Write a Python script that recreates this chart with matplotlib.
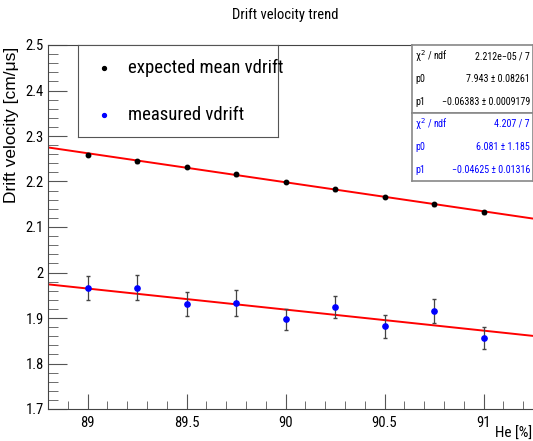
import numpy as np
import matplotlib.pyplot as plt
from matplotlib.ticker import MultipleLocator

plt.rcParams['font.family'] = ['Roboto Condensed', 'Liberation Sans', 'DejaVu Sans']

# He fraction scan
he = [89.0, 89.25, 89.5, 89.75, 90.0, 90.25, 90.5, 90.75, 91.0]

# expected mean drift velocity (cm/us)
v_expected = [2.259, 2.2445, 2.2318, 2.2155, 2.199, 2.1832, 2.1662, 2.1502, 2.1325]
v_expected_err = [0.003] * 9

# measured drift velocity (cm/us)
v_measured = [1.966, 1.967, 1.931, 1.933, 1.897, 1.925, 1.882, 1.915, 1.856]
v_measured_err = [0.026, 0.028, 0.026, 0.029, 0.023, 0.024, 0.025, 0.026, 0.024]

# linear fit results (p0 + p1*x)
fit_expected = {"chi2": "2.212e\u221205 / 7", "p0": "7.943 \u00b1 0.08261",
                "p1": "\u22120.06383 \u00b1 0.0009179", "a": 7.943, "b": -0.06383}
fit_measured = {"chi2": "4.207 / 7", "p0": "6.081 \u00b1 1.185",
                "p1": "\u22120.04625 \u00b1 0.01316", "a": 6.081, "b": -0.04625}

fig = plt.figure(figsize=(5.33, 4.41), dpi=100)
ax = fig.add_axes([48 / 533, 32 / 441, 485 / 533, 364 / 441])

xmin, xmax = 88.8, 91.25
xx = np.array([xmin, xmax])
for fit in (fit_expected, fit_measured):
    ax.plot(xx, fit["a"] + fit["b"] * xx, color='red', lw=1.4, zorder=2)

ax.errorbar(he, v_expected, yerr=v_expected_err, fmt='o', color='black',
            ms=3.2, ecolor='#444444', elinewidth=0.9, capsize=1.5, zorder=3)
ax.errorbar(he, v_measured, yerr=v_measured_err, fmt='o', color='blue',
            ms=3.8, ecolor='#444444', elinewidth=0.9, capsize=1.5, zorder=3)

ax.set_xlim(xmin, xmax)
ax.set_ylim(1.7, 2.5)
ax.xaxis.set_minor_locator(MultipleLocator(0.1))
ax.yaxis.set_minor_locator(MultipleLocator(0.02))
ax.set_xticks([89, 89.5, 90, 90.5, 91])
ax.set_xticklabels(['89', '89.5', '90', '90.5', '91'])
ax.set_yticks(np.round(np.arange(1.7, 2.51, 0.1), 1))
ax.set_yticklabels(['1.7', '1.8', '1.9', '2', '2.1', '2.2', '2.3', '2.4', '2.5'])
ax.tick_params(axis='both', which='both', direction='in', color='#555555',
               labelsize=10.5, top=False, right=False)
ax.tick_params(axis='x', which='major', length=11, pad=5)
ax.tick_params(axis='x', which='minor', length=6)
ax.tick_params(axis='y', which='major', length=14, pad=3)
ax.tick_params(axis='y', which='minor', length=7)
for s in ax.spines.values():
    s.set_color('#444444')
ax.spines['right'].set_visible(False)

fig.text(285 / 533, 1 - 15 / 441, "Drift velocity trend", ha='center', va='center', fontsize=10.5)
fig.text(12 / 533, 1 - 47 / 441, "Drift velocity [cm/\u03bcs]", rotation=90,
         ha='center', va='top', fontsize=12.5, family=['Liberation Sans', 'DejaVu Sans'])
fig.text(532 / 533, 1 - 434 / 441, "He [%]", ha='right', va='center', fontsize=11)

# legend box
leg = fig.add_axes([78 / 533, 1 - 137 / 441, 200 / 533, 92 / 441])
leg.set_xlim(0, 200)
leg.set_ylim(92, 0)
leg.set_xticks([])
leg.set_yticks([])
for s in leg.spines.values():
    s.set_color('#555555')
leg.plot(26, 23, 'o', color='black', ms=2.8)
leg.plot(26, 70, 'o', color='blue', ms=2.8)
leg.text(50, 23, "expected mean vdrift", va='center', fontsize=13.5)
leg.text(50, 70, "measured vdrift", va='center', fontsize=13.5)


def stats_box(top, fit, color):
    box = fig.add_axes([412 / 533, 1 - (top + 68) / 441, 121 / 533, 68 / 441])
    box.set_xlim(0, 121)
    box.set_ylim(68, 0)
    box.set_xticks([])
    box.set_yticks([])
    for s in box.spines.values():
        s.set_color('#888888')
        s.set_linewidth(1.2)
    rows = [("\u03c7$^2$ / ndf", fit["chi2"]), ("p0", fit["p0"]), ("p1", fit["p1"])]
    for i, (name, val) in enumerate(rows):
        y = 11 + i * 23
        box.text(3, y, name, va='center', fontsize=7.2, color=color)
        box.text(118, y, val, va='center', ha='right', fontsize=7.2, color=color)


stats_box(45, fit_expected, 'black')
stats_box(113, fit_measured, 'blue')

fig.savefig('out.png', dpi=100)
